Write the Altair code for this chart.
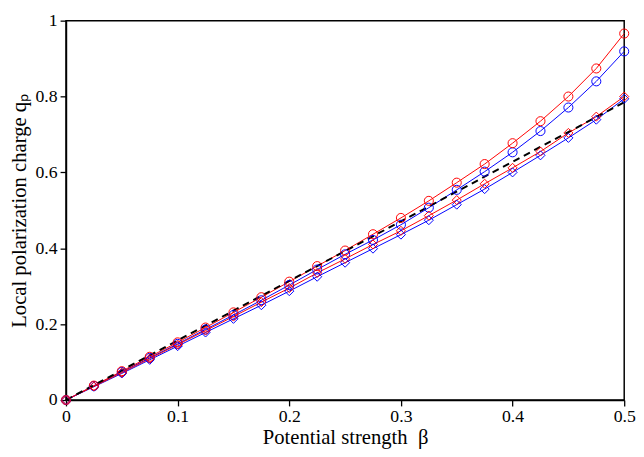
import altair as alt
import pandas as pd

# ---- data ----
beta = [0.0, 0.025, 0.05, 0.075, 0.1, 0.125, 0.15, 0.175, 0.2, 0.225, 0.25,
        0.275, 0.3, 0.325, 0.35, 0.375, 0.4, 0.425, 0.45, 0.475, 0.5]
edge_14x25 = [0.0, 0.037, 0.074, 0.111, 0.148, 0.186, 0.224, 0.263, 0.303, 0.344, 0.384,
              0.422, 0.462, 0.507, 0.554, 0.602, 0.653, 0.709, 0.771, 0.840, 0.919]
edge_42x73 = [0.0, 0.038, 0.076, 0.114, 0.152, 0.191, 0.231, 0.271, 0.312, 0.353, 0.394,
              0.437, 0.480, 0.525, 0.573, 0.622, 0.677, 0.735, 0.800, 0.874, 0.966]
plaq_22x39 = [0.0, 0.035, 0.070, 0.106, 0.142, 0.178, 0.214, 0.250, 0.287, 0.325, 0.362,
              0.399, 0.436, 0.474, 0.515, 0.556, 0.600, 0.645, 0.691, 0.739, 0.794]
plaq_46x79 = [0.0, 0.036, 0.072, 0.109, 0.146, 0.183, 0.220, 0.258, 0.295, 0.335, 0.372,
              0.410, 0.446, 0.486, 0.527, 0.570, 0.612, 0.655, 0.704, 0.747, 0.800]
pert_beta = [0.0, 0.5]
pert_q = [0.0, 0.785]

series_names = ["14x25 (edge)", "42x73 (edge)", "22x39 (plaquette)",
                "46x79 (plaquette)", "qₚ = (π/2)β (perturbative)"]
series_colors = ["#0000ff", "#ff0000", "#0000ff", "#ff0000", "#000000"]
series_shapes = ["circle", "circle", "diamond", "diamond", "stroke"]
series_values = [edge_14x25, edge_42x73, plaq_22x39, plaq_46x79]

x_major = [0.0, 0.1, 0.2, 0.3, 0.4, 0.5]
y_major = [0.0, 0.2, 0.4, 0.6, 0.8, 1.0]

rows = []
for name, vals in zip(series_names[:4], series_values):
    for b, q in zip(beta, vals):
        rows.append({"beta": b, "q": q, "series": name})
df = pd.DataFrame(rows)
df_pert = pd.DataFrame({"beta": pert_beta, "q": pert_q, "series": series_names[4]})

FONT = "Liberation Serif"

xscale = alt.Scale(domain=[0, 0.5], nice=False)
yscale = alt.Scale(domain=[0, 1], nice=False)
sscale = alt.Scale(domain=series_names, range=series_colors)

x_main = alt.Axis(values=x_major, format="~g", labelFlush=False, labelOverlap=False,
                  tickSize=6, labelPadding=2, titlePadding=1,
                  title="Potential strength\u2002β")
y_main = alt.Axis(values=y_major, format="~g", labelFlush=False, labelOverlap=False,
                  tickSize=6, labelPadding=3, titlePadding=6,
                  title="Local polarization charge qₚ")

lines = alt.Chart(df).mark_line(strokeWidth=1).encode(
    x=alt.X("beta:Q", scale=xscale, axis=x_main),
    y=alt.Y("q:Q", scale=yscale, axis=y_main),
    stroke=alt.Stroke("series:N", scale=sscale, legend=None),
    detail="series:N",
)

pert = alt.Chart(df_pert).mark_line(strokeWidth=2, strokeDash=[7, 5]).encode(
    x="beta:Q", y="q:Q",
    stroke=alt.Stroke("series:N", scale=sscale, legend=None),
)

leg = alt.Legend(
    orient="none", legendX=24, legendY=11, title=None,
    fillColor="white", strokeColor="black", padding=7,
    labelFont=FONT, labelFontSize=17, labelColor="black", labelLimit=400,
    symbolSize=90, symbolStrokeWidth=1.2, rowPadding=4)

points = alt.Chart(df).mark_point(filled=False, size=85, strokeWidth=1, opacity=1).encode(
    x="beta:Q", y="q:Q",
    color=alt.Color("series:N", scale=alt.Scale(domain=series_names, range=series_colors),
                    legend=leg),
    shape=alt.Shape("series:N", scale=alt.Scale(domain=series_names, range=series_shapes),
                    legend=leg),
)

chart = alt.layer(lines, pert, points).properties(
    width=568, height=386, background="white", padding=0,
).configure_view(
    stroke="black", strokeWidth=1.5
).configure_axis(
    labelFont=FONT, labelFontSize=18, labelColor="black", titleFont=FONT,
    titleFontSize=21, titleFontWeight="normal", titleColor="black",
    tickColor="black", tickWidth=1.3, domainColor="black", domainWidth=1.5, grid=False
)

chart.save("out.html", embed_options={"renderer": "svg", "actions": False})
